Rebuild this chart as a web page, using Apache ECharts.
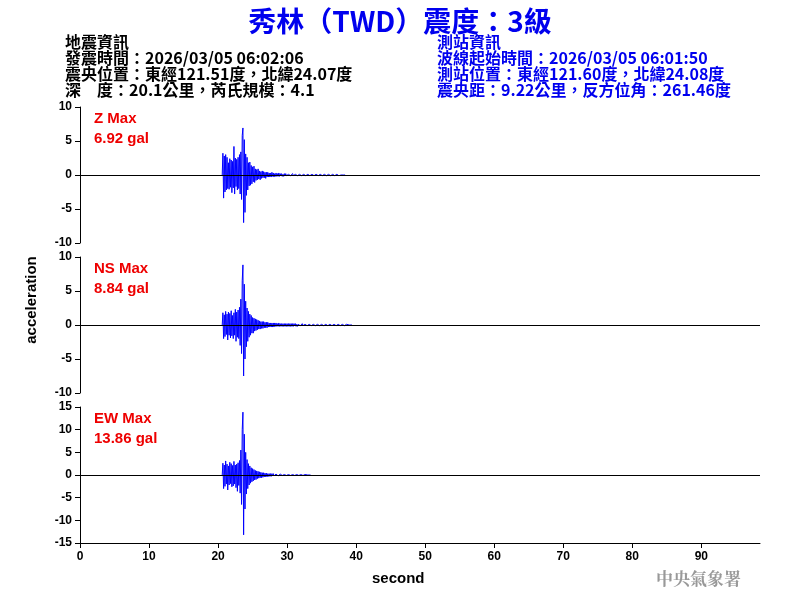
<!DOCTYPE html>
<html><head><meta charset="utf-8">
<script src="https://cdn.jsdelivr.net/npm/echarts@6/dist/echarts.min.js"></script>
<style>html,body{margin:0;padding:0;background:#fff}#c{width:800px;height:600px}</style>
</head><body><div id="c"></div>
<script>
const startTime = 20.6, sampleStep = 0.1;
const zValues = [
0,3.2,-3.4,2.8,-2.5,3.0,-2.2,2.6,-2.0,1.8,
-2.1,2.4,-1.8,2.2,-2.6,2.0,-1.9,4.2,-2.8,2.5,
-1.7,2.3,-2.2,2.6,-2.0,3.0,-2.8,3.4,-3.6,5.8,
6.92,-7.0,5.2,-5.5,3.1,-3.0,2.6,-2.2,1.8,-1.6,
1.9,-1.5,1.4,-1.3,1.2,-1.0,1.3,-1.1,0.9,-0.8,
0.8,-0.7,0.9,-0.6,0.6,-0.7,0.5,-0.5,0.6,-0.4,
0.5,-0.4,0.4,-0.5,0.4,-0.3,0.4,-0.3,0.3,-0.3,
0.3,-0.3,0.4,-0.2,0.3,-0.3,0.2,-0.2,0.3,-0.2,
0.2,-0.2,0.3,-0.2,0.2,-0.1,0.2,-0.2,0.1,-0.2,
0.2,-0.1,0.2,-0.1,0.1,-0.2,0.1,-0.1,0.2,-0.1,
0.1,-0.1,0.2,-0.1,0.1,-0.1,0.1,-0.1,0.2,-0.1,
0.1,-0.1,0.1,-0.1,0.1,-0.1,0.1,-0.1,0.1,-0.1,
0.1,-0.1,0.1,-0.1,0.1,-0.1,0.1,-0.1,0.1,-0.1,
0.1,-0.1,0.1,-0.1,0.1,-0.1,0.1,-0.1,0.1,-0.1,
0.1,-0.1,0.1,-0.1,0.1,-0.1,0.1,-0.1,0.1,-0.1,
0.1,-0.1,0.1,-0.1,0.1,-0.1,0.1,-0.1,0.1,-0.1,
0.1,-0.1,0.1,-0.1,0.1,-0.1,0.1,-0.1,0.1,-0.1,
0.1,-0.1,0,0,0,0,0,0,0,0
];
const nsValues = [
0,1.8,-2.0,1.5,-1.7,2.0,-1.4,1.6,-2.2,1.9,
-1.5,1.7,-1.9,2.1,-1.6,1.4,-2.0,1.8,-1.5,2.3,
-2.4,1.9,-1.8,2.2,-2.0,2.6,-3.0,3.8,-4.2,6.5,
8.84,-7.5,6.0,-5.0,3.5,-3.2,2.5,-2.4,2.0,-1.8,
1.6,-1.5,1.4,-1.2,1.1,-1.2,1.0,-0.9,0.9,-0.8,
0.8,-0.7,0.7,-0.6,0.6,-0.6,0.5,-0.5,0.5,-0.5,
0.5,-0.4,0.4,-0.4,0.4,-0.4,0.4,-0.3,0.3,-0.3,
0.3,-0.3,0.3,-0.3,0.3,-0.3,0.3,-0.2,0.3,-0.2,
0.2,-0.2,0.3,-0.2,0.2,-0.2,0.2,-0.2,0.2,-0.2,
0.2,-0.2,0.2,-0.2,0.2,-0.2,0.2,-0.2,0.2,-0.2,
0.2,-0.2,0.2,-0.2,0.2,-0.1,0.2,-0.2,0.1,-0.2,
0.1,-0.1,0.2,-0.1,0.1,-0.1,0.2,-0.1,0.1,-0.1,
0.1,-0.1,0.1,-0.1,0.1,-0.1,0.1,-0.1,0.1,-0.1,
0.1,-0.1,0.1,-0.1,0.1,-0.1,0.1,-0.1,0.1,-0.1,
0.1,-0.1,0.1,-0.1,0.1,-0.1,0.1,-0.1,0.1,-0.1,
0.1,-0.1,0.1,-0.1,0.1,-0.1,0.1,-0.1,0.1,-0.1,
0.1,-0.1,0.1,-0.1,0.1,-0.1,0.1,-0.1,0.1,-0.1,
0.1,-0.1,0.1,-0.1,0.1,-0.1,0.1,-0.1,0.1,-0.1,
0.1,-0.1,0,0,0,0,0,0,0,0
];
const ewValues = [
0,2.6,-3.0,2.2,-2.5,3.1,-2.0,2.4,-3.3,2.0,
-2.2,2.8,-1.9,2.5,-2.6,2.1,-2.4,3.0,-2.0,2.2,
-2.8,2.4,-3.6,2.7,-2.3,3.2,-4.0,5.5,-6.5,10.0,
13.86,-13.2,9.0,-7.5,5.0,-4.2,3.4,-3.0,2.5,-2.2,
2.0,-1.8,1.6,-1.5,1.4,-1.3,1.2,-1.1,1.0,-1.0,
0.9,-0.8,0.8,-0.7,0.7,-0.6,0.6,-0.6,0.5,-0.5,
0.5,-0.4,0.4,-0.4,0.4,-0.4,0.3,-0.3,0.3,-0.3,
0.3,-0.3,0.3,-0.2,0.3,-0.2,0.2,-0.2,0.2,-0.2,
0.2,-0.2,0.2,-0.2,0.2,-0.2,0.2,-0.1,0.2,-0.1,
0.1,-0.1,0.2,-0.1,0.1,-0.1,0.1,-0.1,0.1,-0.1,
0.1,-0.1,0.1,-0.1,0.1,-0.1,0.1,-0.1,0.1,-0.1,
0.1,-0.1,0.1,-0.1,0.1,-0.1,0.1,-0.1,0.1,-0.1,
0.1,-0.1,0,0,0,0,0,0,0,0
];
const yTicks = [[-10,10,5],[-10,10,5],[-15,15,5]];
const maxLabels = [['Z Max','6.92 gal'],['NS Max','8.84 gal'],['EW Max','13.86 gal']];
const xMin = 0, xMax = 98.5, xInterval = 10;

const toPairs = v => v.map((y,i)=>[+(startTime+i*sampleStep).toFixed(2), y]);
const traces = [zValues, nsValues, ewValues];
const tops = [107,257,407];
const lbl = {color:'#000',fontWeight:'bold',fontSize:12,fontFamily:'Liberation Sans'};
const option = {
  animation:false,
  title:[
    {text:'秀林（TWD）震度：3級',left:'center',top:2,textStyle:{color:'#0000ee',fontSize:28,fontWeight:'bold',fontFamily:'Noto Sans CJK TC'}},
  ],
  graphic:[
    {type:'text',left:65,top:34,style:{text:'地震資訊\n發震時間：2026/03/05 06:02:06\n震央位置：東經121.51度，北緯24.07度\n深　度：20.1公里，芮氏規模：4.1',fill:'#000',font:'bold 16px "Noto Sans CJK TC"',lineHeight:16}},
    {type:'text',left:437,top:34,style:{text:'測站資訊\n波線起始時間：2026/03/05 06:01:50\n測站位置：東經121.60度，北緯24.08度\n震央距：9.22公里，反方位角：261.46度',fill:'#0000ee',font:'bold 16px "Noto Sans CJK TC"',lineHeight:16}},
    {type:'text',left:656,top:570,style:{text:'中央氣象署',fill:'#999',font:'bold 17px "Noto Serif CJK TC","Noto Sans CJK TC"'}},
    {type:'text',left:372,top:571,style:{text:'second',fill:'#000',font:'bold 15px "Liberation Sans"'}},
    {type:'text',x:32,y:300,rotation:Math.PI/2,style:{text:'acceleration',fill:'#000',font:'bold 15px "Liberation Sans"',align:'center',verticalAlign:'middle'}},
    ...maxLabels.map((m,i)=>({type:'text',left:94,top:tops[i]+2,style:{text:m[0]+'\n'+m[1],fill:'#ee0000',font:'bold 15px "Liberation Sans"',lineHeight:20}}))
  ],
  grid: tops.map(t=>({left:80,right:40,top:t,height:136})),
  xAxis: tops.map((t,i)=>({type:'value',gridIndex:i,min:xMin,max:xMax,interval:xInterval,
    axisLine:{show:i===2,onZero:false,lineStyle:{color:'#000'}},axisTick:{show:i===2,lineStyle:{color:'#000'}},
    axisLabel:Object.assign({show:i===2,fontSize:13,showMaxLabel:false},lbl),splitLine:{show:false}})),
  yAxis: yTicks.map((y,i)=>({type:'value',gridIndex:i,min:y[0],max:y[1],interval:y[2],
    axisLine:{show:true,lineStyle:{color:'#000'}},axisTick:{show:true,lineStyle:{color:'#000'}},
    axisLabel:lbl,splitLine:{show:false}})),
  series: traces.map((v,i)=>({type:'line',xAxisIndex:i,yAxisIndex:i,data:toPairs(v),showSymbol:false,
    sampling:'none',lineStyle:{color:'#0000ff',width:1},itemStyle:{color:'#0000ff'},
    markLine:{silent:true,symbol:'none',label:{show:false},lineStyle:{color:'#000',width:1,type:'solid'},data:[{yAxis:0}]}}))
};
echarts.init(document.getElementById('c')).setOption(option);
</script></body></html>
